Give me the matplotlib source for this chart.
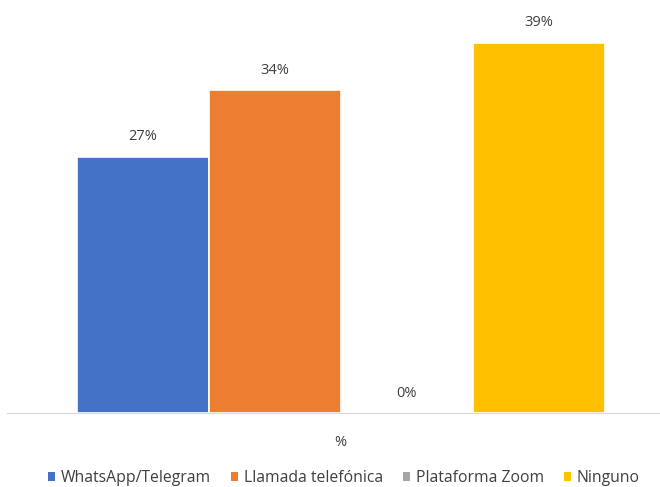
import matplotlib
matplotlib.use("Agg")
import matplotlib.pyplot as plt
from matplotlib.patches import Patch

categories = ["WhatsApp/Telegram", "Llamada telefónica", "Plataforma Zoom", "Ninguno"]
values = [0.27, 0.34, 0.00, 0.39]
labels = ["27%", "34%", "0%", "39%"]
group_label = "%"
colors = ["#4472C4", "#ED7D31", "#A5A5A5", "#FFC000"]

plt.rcParams["font.family"] = ["Open Sans", "DejaVu Sans"]

fig = plt.figure(figsize=(6.6, 4.87), dpi=100)
ax = fig.add_axes([7 / 660, 74 / 487, 653 / 660, 413 / 487])

x = list(range(len(values)))
bars = ax.bar(x, values, width=1.0, color=colors, edgecolor="white", linewidth=1.2)
for xi, v, lab in zip(x, values, labels):
    ax.text(xi, v + 0.013, lab, ha="center", va="bottom", fontsize=10.5, color="#404040")

ax.set_xlim(-1.03, 3.92)
ax.set_ylim(0, 0.435)
ax.set_yticks([])
ax.set_xticks([1.5])
ax.set_xticklabels([group_label], fontsize=10.5, color="#404040")
ax.tick_params(axis="x", length=0, pad=16)
for s in ["top", "right", "left"]:
    ax.spines[s].set_visible(False)
ax.spines["bottom"].set_color("#D9D9D9")

handles = [Patch(facecolor=c, edgecolor="none") for c in colors]
fig.legend(handles, categories, loc="center", bbox_to_anchor=(344 / 660, 1 - 478 / 487),
           ncol=4, frameon=False, fontsize=11.3, handlelength=0.45, handleheight=0.45,
           handletextpad=0.35, columnspacing=1.3, labelcolor="#404040")

fig.savefig("out.png", dpi=100)
